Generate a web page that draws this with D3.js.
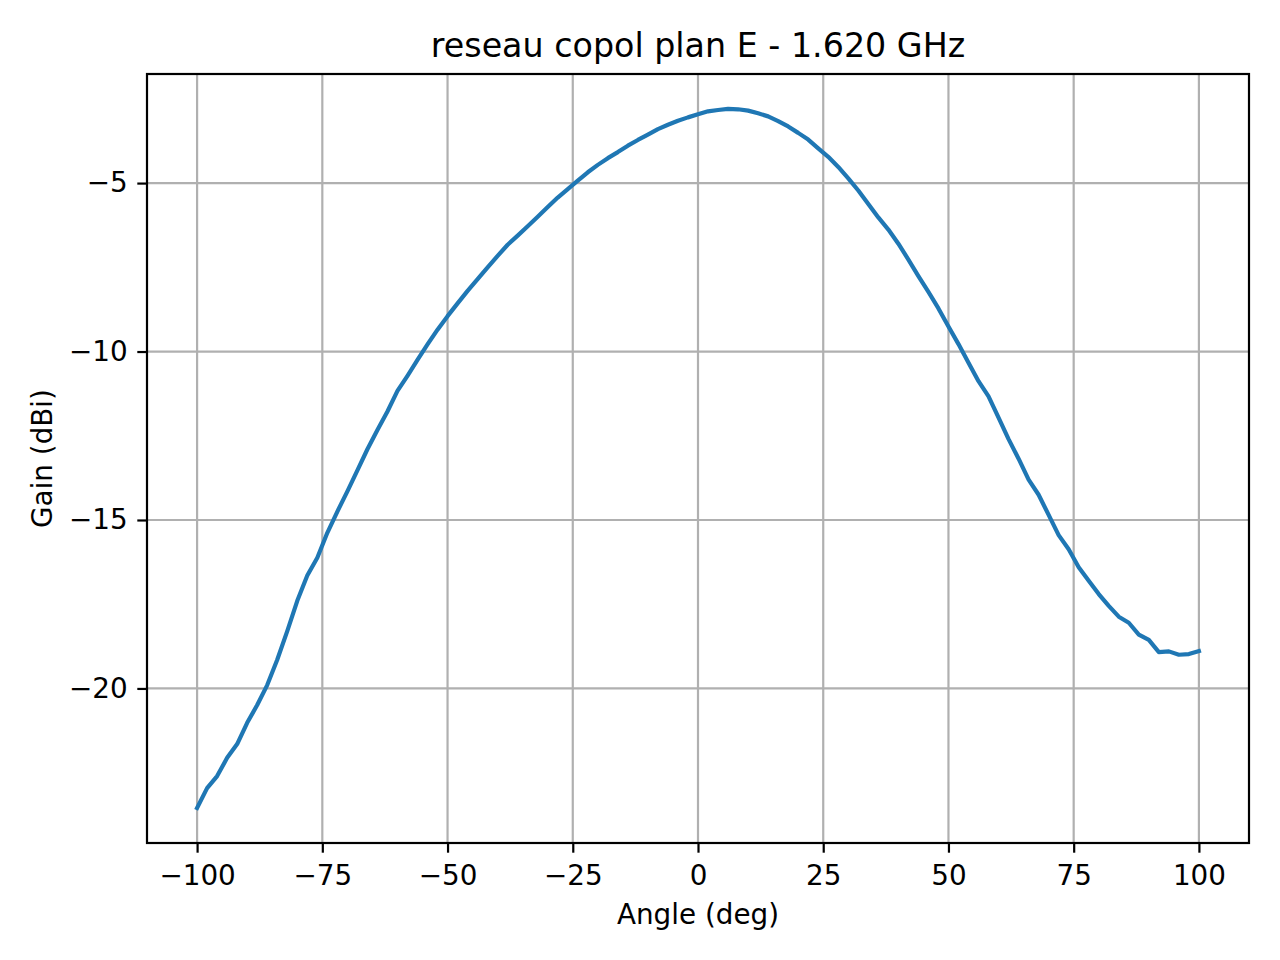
<!DOCTYPE html>
<html>
<head>
<meta charset="utf-8">
<script src="https://cdn.jsdelivr.net/npm/d3@7"></script>
<style>
  body { margin: 0; background: #fff; }
  svg text { font-family: "DejaVu Sans", sans-serif; fill: #000; }
</style>
</head>
<body>
<div id="chart"></div>
<script>
const angles = d3.range(-100, 101, 2);
const gain = [
  -23.55, -22.96, -22.60, -22.06, -21.65, -21.02, -20.49, -19.90, -19.15, -18.30,
  -17.40, -16.65, -16.12, -15.38, -14.75, -14.15, -13.53, -12.90, -12.33, -11.78,
  -11.17, -10.72, -10.25, -9.79, -9.35, -8.95, -8.57, -8.20, -7.85, -7.50,
  -7.16, -6.83, -6.56, -6.28, -6.00, -5.71, -5.43, -5.18, -4.93, -4.68,
  -4.46, -4.26, -4.08, -3.89, -3.72, -3.56, -3.40, -3.27, -3.15, -3.05,
  -2.96, -2.87, -2.83, -2.80, -2.81, -2.85, -2.93, -3.02, -3.16, -3.32,
  -3.51, -3.71, -3.97, -4.22, -4.52, -4.86, -5.22, -5.62, -6.02, -6.38,
  -6.80, -7.27, -7.76, -8.23, -8.72, -9.26, -9.78, -10.33, -10.88, -11.33,
  -11.96, -12.60, -13.18, -13.80, -14.25, -14.85, -15.45, -15.87, -16.40, -16.80,
  -17.20, -17.55, -17.87, -18.05, -18.40, -18.56, -18.92, -18.90, -19.00, -18.98,
  -18.89
];
const xTicks = [-100, -75, -50, -25, 0, 25, 50, 75, 100];
const yTicks = [-20, -15, -10, -5];
const titleText = "reseau copol plan E - 1.620 GHz";
const xLabel = "Angle (deg)";
const yLabel = "Gain (dBi)";

const W = 1280, H = 960;
const margin = { top: 74, right: 31, bottom: 117, left: 147 };
const iw = W - margin.left - margin.right;
const ih = H - margin.top - margin.bottom;
const tickFont = 27.8;

const data = angles.map((a, i) => ({ a: a, g: gain[i] }));

// matplotlib-like 5% margins around the data range
const xExt = d3.extent(angles), yExt = d3.extent(gain);
const xPad = (xExt[1] - xExt[0]) * 0.05, yPad = (yExt[1] - yExt[0]) * 0.05;

const x = d3.scaleLinear().domain([xExt[0] - xPad, xExt[1] + xPad]).range([0, iw]);
const y = d3.scaleLinear().domain([yExt[0] - yPad, yExt[1] + yPad]).range([ih, 0]);

const svg = d3.select("#chart").append("svg")
    .attr("width", W)
    .attr("height", H);

const g = svg.append("g").attr("transform", `translate(${margin.left},${margin.top})`);

// grid
g.append("g").selectAll("line").data(xTicks).join("line")
    .attr("x1", d => x(d)).attr("x2", d => x(d))
    .attr("y1", 0).attr("y2", ih)
    .attr("stroke", "#b0b0b0").attr("stroke-width", 2.2);
g.append("g").selectAll("line").data(yTicks).join("line")
    .attr("x1", 0).attr("x2", iw)
    .attr("y1", d => y(d)).attr("y2", d => y(d))
    .attr("stroke", "#b0b0b0").attr("stroke-width", 2.2);

// curve
const line = d3.line().x(d => x(d.a)).y(d => y(d.g));
g.append("path")
    .datum(data)
    .attr("fill", "none")
    .attr("stroke", "#1f77b4")
    .attr("stroke-width", 4.2)
    .attr("stroke-linejoin", "round")
    .attr("stroke-linecap", "square")
    .attr("d", line);

// axes
const fmt = d3.format("d");
const xAxis = g.append("g")
    .attr("transform", `translate(0,${ih})`)
    .call(d3.axisBottom(x).tickValues(xTicks).tickFormat(fmt).tickSize(9.7).tickPadding(9.7));
const yAxis = g.append("g")
    .call(d3.axisLeft(y).tickValues(yTicks).tickFormat(fmt).tickSize(9.7).tickPadding(9.7));

[xAxis, yAxis].forEach(ax => {
  ax.select(".domain").remove();
  ax.selectAll(".tick line").attr("stroke", "#000").attr("stroke-width", 2.2);
  ax.selectAll(".tick text")
      .attr("font-family", "DejaVu Sans")
      .attr("font-size", tickFont)
      .attr("fill", "#000");
});
xAxis.selectAll(".tick text").attr("dy", "0.83em");

// frame
g.append("rect")
    .attr("width", iw).attr("height", ih)
    .attr("fill", "none")
    .attr("stroke", "#000")
    .attr("stroke-width", 2.2);

// labels
svg.append("text")
    .attr("x", margin.left + iw / 2)
    .attr("y", 57)
    .attr("text-anchor", "middle")
    .attr("font-size", 33.3)
    .text(titleText);

svg.append("text")
    .attr("x", margin.left + iw / 2)
    .attr("y", 924)
    .attr("text-anchor", "middle")
    .attr("font-size", tickFont)
    .text(xLabel);

svg.append("text")
    .attr("transform", `translate(52,${margin.top + ih / 2}) rotate(-90)`)
    .attr("text-anchor", "middle")
    .attr("font-size", tickFont)
    .text(yLabel);
</script>
</body>
</html>
